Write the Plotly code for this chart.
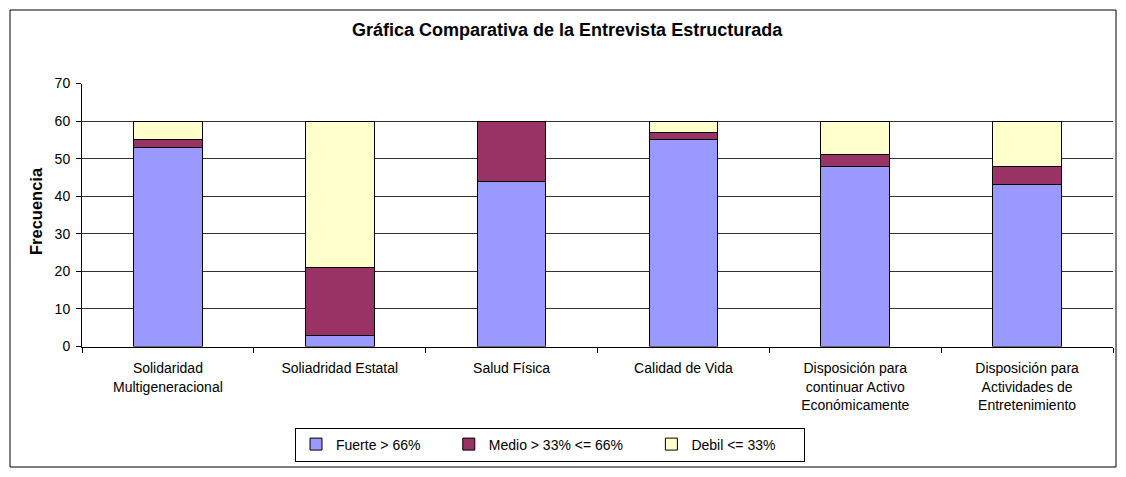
import plotly.graph_objects as go

categories = [
    "Solidaridad<br>Multigeneracional",
    "Soliadridad Estatal",
    "Salud Física",
    "Calidad de Vida",
    "Disposición para<br>continuar Activo<br>Económicamente",
    "Disposición para<br>Actividades de<br>Entretenimiento",
]
fuerte = [53, 3, 44, 55, 48, 43]
medio = [2, 18, 16, 2, 3, 5]
debil = [5, 39, 0, 3, 9, 12]

series_names = ["Fuerte > 66%", "Medio > 33% <= 66%", "Debil <= 33%"]
colors = ["#9999FF", "#993366", "#FFFFCC"]
y_ticks = [0, 10, 20, 30, 40, 50, 60, 70]

W, H = 1126, 477
FONT = "Liberation Sans, Arial, sans-serif"
PAD = "\u00a0" * 6

fig = go.Figure()
for name, vals, col in zip(series_names, [fuerte, medio, debil], colors):
    fig.add_trace(go.Bar(
        x=categories, y=vals, name=name + PAD,
        marker=dict(color=col, line=dict(color="#000000", width=1)),
    ))

fig.update_layout(
    width=W, height=H,
    autosize=False,
    barmode="stack",
    bargap=0.6,
    paper_bgcolor="white",
    plot_bgcolor="white",
    margin=dict(l=0, r=0, t=0, b=0, pad=0, autoexpand=False),
    font=dict(family=FONT, size=14, color="#000000"),
    showlegend=True,
    legend=dict(
        orientation="h",
        x=550 / W, xanchor="center",
        y=1 - 444.5 / H, yanchor="middle",
        bordercolor="#000000", borderwidth=1,
        bgcolor="white",
        font=dict(family=FONT, size=14),
        itemwidth=30,
        traceorder="normal",
    ),
    xaxis=dict(
        domain=[82 / W, 1113 / W],
        showline=True, linecolor="#000000", linewidth=1,
        ticks="outside", tickson="boundaries", ticklen=5, tickcolor="#000000",
        showgrid=False,
        tickfont=dict(family=FONT, size=14),
        ticklabelstandoff=9,
        automargin=False,
        anchor="y",
    ),
    yaxis=dict(
        domain=[1 - 346.5 / H, 1 - 83.5 / H],
        range=[0, 70],
        tickvals=y_ticks,
        showline=True, linecolor="#000000", linewidth=1,
        ticks="outside", ticklen=5, tickcolor="#000000",
        showgrid=True, gridcolor="#333333", gridwidth=1,
        tickfont=dict(family=FONT, size=14),
        ticklabelstandoff=3,
        zeroline=False,
        automargin=False,
        anchor="x",
    ),
)

fig.add_annotation(
    text="<b>Gráfica Comparativa de la Entrevista Estructurada</b>",
    xref="paper", yref="paper", x=567 / W, y=1 - 30 / H,
    showarrow=False, font=dict(family=FONT, size=18),
    xanchor="center", yanchor="middle",
)
fig.add_annotation(
    text="<b>Frecuencia</b>",
    xref="paper", yref="paper", x=36 / W, y=1 - 211 / H,
    showarrow=False, textangle=-90, font=dict(family=FONT, size=16.5),
    xanchor="center", yanchor="middle",
)
fig.add_shape(
    type="rect", xref="paper", yref="paper",
    x0=10 / W, x1=1116 / W, y0=1 - 467 / H, y1=1 - 10 / H,
    line=dict(color="#000000", width=1), fillcolor="rgba(0,0,0,0)",
    layer="below",
)

fig.write_html(
    "out.html",
    config={"displayModeBar": False},
    post_script="document.body.style.margin='0';document.body.style.overflow='hidden';",
)
